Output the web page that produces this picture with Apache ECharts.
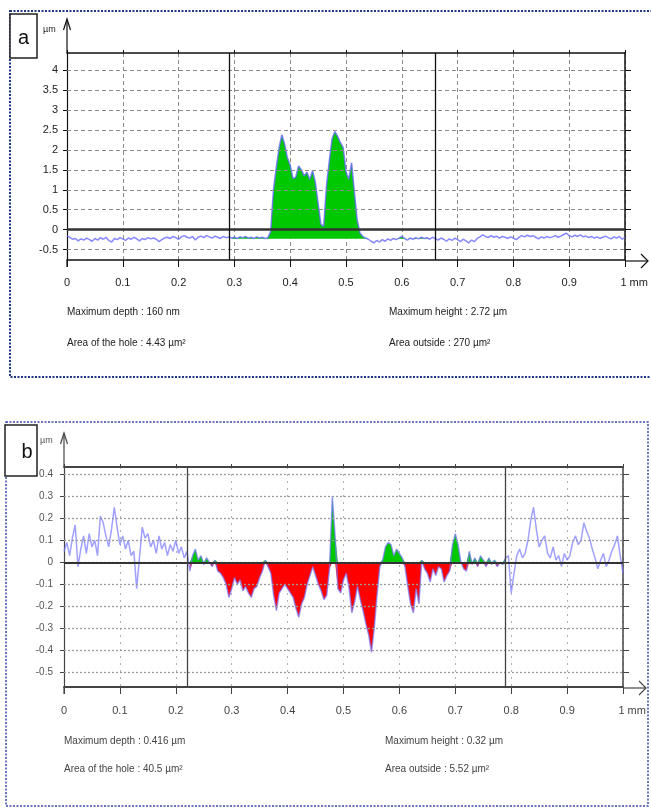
<!DOCTYPE html>
<html>

<head>
	<meta charset="UTF-8">
	<title>Profils a / b</title>
	<script src="https://cdn.jsdelivr.net/npm/echarts@6/dist/echarts.min.js"></script>
	<style>
		html, body { margin: 0; padding: 0; background: #fff; }
	</style>
</head>

<body>
	<div id="chart1" style="width: 651px;height: 810px;"></div>
</body>

</html>
<script type="text/javascript">
	// heights in µm, one sample every 0.005 mm from 0 to 1 mm
	var stepMm = 0.005;
	var profileA = [
		-0.16, -0.19, -0.24, -0.22, -0.28, -0.23, -0.26, -0.21, -0.25, -0.29,
		-0.22, -0.26, -0.20, -0.24, -0.19, -0.27, -0.31, -0.22, -0.25, -0.20,
		-0.23, -0.27, -0.21, -0.24, -0.19, -0.23, -0.28, -0.22, -0.25, -0.20,
		-0.23, -0.21, -0.24, -0.30, -0.25, -0.21, -0.19, -0.22, -0.17, -0.20,
		-0.24, -0.18, -0.15, -0.19, -0.21, -0.17, -0.26, -0.19, -0.16, -0.20,
		-0.15, -0.18, -0.21, -0.16, -0.19, -0.22, -0.17, -0.20, -0.18, -0.21,
		-0.19, -0.22, -0.18, -0.20, -0.17, -0.21, -0.19, -0.22, -0.18, -0.21,
		-0.19, -0.22, -0.20, -0.05, 1.00, 1.55, 2.05, 2.38, 2.15, 1.80,
		1.62, 1.28, 1.32, 1.60, 1.50, 1.35, 1.44, 1.26, 1.48, 1.20,
		0.66, 0.14, 0.08, 1.10, 1.72, 2.28, 2.46, 2.34, 2.18, 2.06,
		1.45, 1.26, 1.68, 0.95, 0.25, -0.08, -0.17, -0.21, -0.24, -0.29,
		-0.33, -0.27, -0.31, -0.25, -0.29, -0.23, -0.27, -0.22, -0.25, -0.21,
		-0.17, -0.22, -0.26, -0.21, -0.24, -0.20, -0.23, -0.19, -0.22, -0.20,
		-0.24, -0.19, -0.22, -0.26, -0.21, -0.24, -0.29, -0.23, -0.27, -0.21,
		-0.25, -0.30, -0.24, -0.28, -0.33, -0.26, -0.30, -0.22, -0.18, -0.13,
		-0.17, -0.20, -0.15, -0.19, -0.16, -0.21, -0.17, -0.19, -0.22, -0.18,
		-0.21, -0.25, -0.19, -0.15, -0.18, -0.14, -0.17, -0.15, -0.19, -0.23,
		-0.18, -0.21, -0.17, -0.20, -0.18, -0.15, -0.19, -0.16, -0.12, -0.09,
		-0.15, -0.18, -0.14, -0.17, -0.13, -0.18, -0.16, -0.20, -0.17, -0.21,
		-0.18, -0.22, -0.19, -0.16, -0.20, -0.23, -0.18, -0.21, -0.17, -0.24,
		-0.19
	];
	var profileB = [
		0.05, 0.09, 0.03, 0.11, 0.17, -0.02, 0.06, 0.12, 0.04, 0.13,
		0.07, 0.10, 0.03, 0.21, 0.18, 0.12, 0.07, 0.15, 0.25, 0.16,
		0.08, 0.12, 0.06, 0.10, 0.03, 0.05, -0.12, 0.02, 0.16, 0.11,
		0.13, 0.07, 0.10, 0.04, 0.12, 0.06, 0.09, 0.03, 0.08, 0.05,
		0.10, 0.04, 0.07, 0.02, 0.05, -0.04, 0.03, 0.06, 0.01, 0.03,
		-0.01, 0.02, 0.00, -0.02, 0.01, -0.04, -0.05, -0.07, -0.10, -0.16,
		-0.12, -0.07, -0.10, -0.08, -0.13, -0.11, -0.14, -0.16, -0.12, -0.11,
		-0.07, -0.04, 0.01, -0.02, -0.05, -0.15, -0.22, -0.14, -0.12, -0.10,
		-0.12, -0.14, -0.16, -0.21, -0.25, -0.19, -0.16, -0.10, -0.06, -0.02,
		-0.06, -0.10, -0.13, -0.17, -0.15, -0.03, 0.30, 0.12, -0.12, -0.14,
		-0.08, -0.05, -0.12, -0.23, -0.18, -0.11, -0.17, -0.22, -0.28, -0.33,
		-0.41, -0.30, -0.15, -0.02, 0.01, 0.07, 0.09, 0.08, 0.03, 0.06,
		0.04, 0.02, -0.02, -0.11, -0.19, -0.23, -0.12, -0.19, 0.01, -0.03,
		-0.05, -0.09, -0.03, -0.06, -0.02, -0.03, -0.09, -0.06, -0.04, 0.08,
		0.13, 0.08, 0.00, -0.03, -0.04, 0.05, -0.01, 0.02, -0.02, 0.03,
		0.01, -0.02, 0.02, -0.01, 0.01, -0.02, 0.00, -0.01, 0.02, 0.03,
		-0.14, -0.05, 0.03, 0.06, 0.02, 0.04, 0.10, 0.19, 0.25, 0.15,
		0.07, 0.10, 0.12, 0.04, 0.02, 0.07, 0.01, 0.03, -0.02, 0.04,
		0.01, 0.03, 0.09, 0.12, 0.08, 0.10, 0.18, 0.14, 0.11, 0.06,
		0.02, -0.03, 0.01, 0.04, -0.02, 0.01, 0.05, 0.08, 0.12, 0.03,
		-0.05
	];
	// measuring cursors (mm) and reference level (µm)
	var cursorsA = [0.294, 0.656];
	var cursorsB = [0.224, 0.794];
	var refA = -0.225;
	var refB = 0;
	var yRangeA = [-0.76, 4.43];
	var yRangeB = [-0.567, 0.433];
	var yTicksA = [-0.5, 0, 0.5, 1, 1.5, 2, 2.5, 3, 3.5, 4];
	var yTicksB = [-0.5, -0.4, -0.3, -0.2, -0.1, 0, 0.1, 0.2, 0.3, 0.4];
	var notesA = ['Maximum depth : 160 nm', 'Area of the hole : 4.43 µm²', 'Maximum height : 2.72 µm', 'Area outside : 270 µm²'];
	var notesB = ['Maximum depth : 0.416 µm', 'Area of the hole : 40.5 µm²', 'Maximum height : 0.32 µm', 'Area outside : 5.52 µm²'];

	var FONT = 'Liberation Sans, Arial, sans-serif';

	function toPairs(profile) {
		return profile.map(function (h, i) { return [+(i * stepMm).toFixed(3), h]; });
	}
	// part of the profile between cursors, clipped on one side of the reference
	function fillPairs(profile, cursors, ref, above) {
		return toPairs(profile).filter(function (p) {
			return p[0] >= cursors[0] - 1e-9 && p[0] <= cursors[1] + 1e-9;
		}).map(function (p) {
			return [p[0], above ? Math.max(p[1], ref) : Math.min(p[1], ref)];
		});
	}
	function xLabel(v) {
		return v === 1 ? '      1 mm' : String(+v.toFixed(1));
	}

	function xAxes(grid, frameColor, frameWidth, gridLine, labelColor, margin) {
		return [{
			type: 'value', gridIndex: grid, position: 'bottom', min: 0, max: 1, interval: 0.1,
			axisLine: { onZero: false, lineStyle: { color: frameColor, width: frameWidth } },
			axisTick: { length: 7, lineStyle: { color: frameColor } },
			axisLabel: { margin: margin, fontSize: 11, color: labelColor, fontFamily: FONT, formatter: xLabel },
			splitLine: { show: true, lineStyle: gridLine }
		}, {
			type: 'value', gridIndex: grid, position: 'top', min: 0, max: 1, interval: 0.1,
			axisLine: { onZero: false, lineStyle: { color: frameColor, width: frameWidth } },
			axisTick: { length: 3, lineStyle: { color: frameColor } },
			axisLabel: { show: false },
			splitLine: { show: false }
		}];
	}
	function yAxes(grid, range, ticks, frameColor, labelColor, margin, size) {
		return [{
			type: 'value', gridIndex: grid, position: 'left', min: range[0], max: range[1],
			axisLine: { show: true, onZero: false, lineStyle: { color: frameColor, width: 1.2 } },
			axisTick: { show: true, customValues: ticks, length: 4, lineStyle: { color: frameColor } },
			axisLabel: { customValues: ticks, margin: margin, fontSize: size, color: labelColor, fontFamily: FONT },
			splitLine: { show: false }
		}, {
			type: 'value', gridIndex: grid, position: 'right', min: range[0], max: range[1],
			axisLine: { show: true, onZero: false, lineStyle: { color: frameColor, width: 1.5 } },
			axisTick: { show: true, customValues: ticks, length: 6, lineStyle: { color: frameColor } },
			axisLabel: { show: false },
			splitLine: { show: false }
		}];
	}

	function panelSeries(xi, yi, profile, ticks, cursors, ref, gridLine, lineColor, frameColor, zeroWidth, withRed) {
		var list = [];
		// horizontal grid lines at the tick values
		list.push({
			type: 'line', xAxisIndex: xi, yAxisIndex: yi, data: [], z: 1, silent: true,
			markLine: {
				silent: true, symbol: 'none', label: { show: false }, animation: false,
				lineStyle: gridLine,
				data: ticks.map(function (v) { return { yAxis: v }; })
			}
		});
		list.push({
			type: 'line', xAxisIndex: xi, yAxisIndex: yi, z: 2, showSymbol: false, silent: true,
			data: fillPairs(profile, cursors, ref, true),
			lineStyle: { width: 0 },
			areaStyle: { color: '#00c800', opacity: 1, origin: ref }
		});
		if (withRed) {
			list.push({
				type: 'line', xAxisIndex: xi, yAxisIndex: yi, z: 2, showSymbol: false, silent: true,
				data: fillPairs(profile, cursors, ref, false),
				lineStyle: { width: 0 },
				areaStyle: { color: '#ff0000', opacity: 1, origin: ref }
			});
		}
		list.push({
			type: 'line', xAxisIndex: xi, yAxisIndex: yi, z: 3, showSymbol: false, silent: true,
			data: toPairs(profile),
			lineStyle: { color: lineColor, width: 1.5 }
		});
		list.push({
			type: 'line', xAxisIndex: xi, yAxisIndex: yi, data: [], z: 4, silent: true,
			markLine: {
				silent: true, symbol: 'none', label: { show: false }, animation: false,
				data: [
					{ yAxis: 0, lineStyle: { color: '#333', width: zeroWidth, type: 'solid' } },
					{ xAxis: cursors[0], lineStyle: { color: frameColor, width: 1.3, type: 'solid' } },
					{ xAxis: cursors[1], lineStyle: { color: frameColor, width: 1.3, type: 'solid' } }
				]
			}
		});
		return list;
	}

	var gridLineA = { color: '#8a8a8a', width: 1, type: [4, 3] };
	var gridLineB = { color: '#9a9a9a', width: 1.3, type: [2, 2] };
	var vGridB = { color: '#b0b0b0', width: 1, type: [2, 5] };

	var chart1 = echarts.init(document.getElementById('chart1'));
	var option = {
		animation: false,
		backgroundColor: '#fff',
		grid: [
			{ left: 67, top: 53, width: 558, height: 207 },
			{ left: 64, top: 467, width: 559, height: 220 }
		],
		xAxis: xAxes(0, '#111', 1.5, gridLineA, '#222', 17).concat(xAxes(1, '#444', 2, vGridB, '#444', 18)),
		yAxis: yAxes(0, yRangeA, yTicksA, '#111', '#222', 9, 11)
			.concat(yAxes(1, yRangeB, yTicksB, '#444', '#555', 11, 10)),
		series: panelSeries(0, 0, profileA, yTicksA, cursorsA, refA, gridLineA, 'rgba(105,105,255,0.8)', '#111', 2.5, false)
			.concat(panelSeries(2, 2, profileB, yTicksB, cursorsB, refB, gridLineB, 'rgba(120,120,255,0.7)', '#444', 2, true))
	};
	chart1.setOption(option);

	// decorations: panel frames, letter boxes, unit labels, axis arrows, result notes
	function arrows(gridIndex, yr, color) {
		var tl = chart1.convertToPixel({ gridIndex: gridIndex }, [0, yr[1]]);
		var br = chart1.convertToPixel({ gridIndex: gridIndex }, [1, yr[0]]);
		var st = { stroke: color, lineWidth: 1.2, fill: null };
		return [
			{ type: 'polyline', shape: { points: [[tl[0], tl[1]], [tl[0], tl[1] - 34]] }, style: st },
			{ type: 'polyline', shape: { points: [[tl[0] - 3.5, tl[1] - 23], [tl[0], tl[1] - 34], [tl[0] + 3.5, tl[1] - 23]] }, style: st },
			{ type: 'polyline', shape: { points: [[tl[0], br[1]], [tl[0], br[1] + 7]] }, style: st },
			{ type: 'polyline', shape: { points: [[br[0], br[1] + 1], [br[0] + 23, br[1] + 1]] }, style: st },
			{ type: 'polyline', shape: { points: [[br[0] + 16, br[1] - 6], [br[0] + 23, br[1] + 1], [br[0] + 16, br[1] + 8]] }, style: st }
		];
	}
	function notes(list, x1, x2, y1, y2, color) {
		var pos = [[x1, y1], [x1, y2], [x2, y1], [x2, y2]];
		return list.map(function (t, i) {
			return {
				type: 'text', x: pos[i][0], y: pos[i][1],
				style: { text: t, fill: color, font: '10px ' + FONT, align: 'left', verticalAlign: 'middle' }
			};
		});
	}
	var graphics = [
		{ type: 'rect', z: 10, shape: { x: 10, y: 11, width: 660, height: 366 },
			style: { fill: null, stroke: '#1d3587', lineWidth: 2, lineDash: [2, 1.5] } },
		{ type: 'rect', z: 10, shape: { x: 6, y: 422, width: 642, height: 384 },
			style: { fill: null, stroke: '#3a48a8', lineWidth: 1.5, lineDash: [2, 1.5] } },
		{ type: 'rect', z: 20, shape: { x: 10, y: 14, width: 27, height: 44 },
			style: { fill: '#fff', stroke: '#222', lineWidth: 1.5 } },
		{ type: 'text', z: 21, x: 23.5, y: 38,
			style: { text: 'a', fill: '#111', font: '20px ' + FONT, align: 'center', verticalAlign: 'middle' } },
		{ type: 'rect', z: 20, shape: { x: 5, y: 425, width: 32, height: 51 },
			style: { fill: '#fff', stroke: '#222', lineWidth: 1.5 } },
		{ type: 'text', z: 21, x: 27, y: 452,
			style: { text: 'b', fill: '#111', font: '20px ' + FONT, align: 'center', verticalAlign: 'middle' } },
		{ type: 'text', x: 43, y: 30,
			style: { text: 'µm', fill: '#222', font: '9px ' + FONT, verticalAlign: 'middle' } },
		{ type: 'text', x: 40, y: 441,
			style: { text: 'µm', fill: '#555', font: '9px ' + FONT, verticalAlign: 'middle' } }
	]
		.concat(arrows(0, yRangeA, '#111'))
		.concat(arrows(1, yRangeB, '#444'))
		.concat(notes(notesA, 67, 389, 312, 343, '#222'))
		.concat(notes(notesB, 64, 385, 741, 769, '#444'));
	chart1.setOption({ graphic: graphics });
</script>
